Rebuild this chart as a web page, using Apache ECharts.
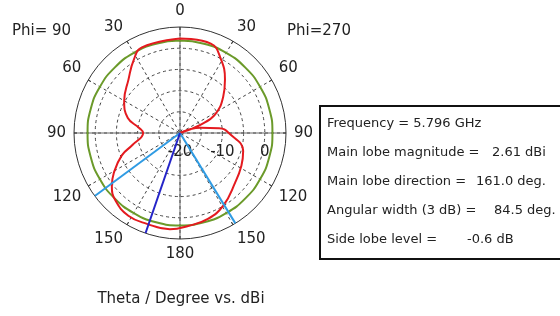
<!DOCTYPE html>
<html>
<head>
<meta charset="utf-8">
<script src="https://cdn.jsdelivr.net/npm/echarts@6/dist/echarts.min.js"></script>
<style>
  html, body { margin: 0; padding: 0; background: #fff; }
  #main { width: 560px; height: 316px; }
</style>
</head>
<body>
<div id="main"></div>
<script>
// theta in degrees, clockwise from the top (right half = Phi 270, left half = Phi 90)
var theta = [0, 19, 29, 40, 50, 62, 68, 72, 76, 83, 90, 106, 118, 132, 149, 162, 175,
             186, 200, 212, 224, 232, 239, 249, 256, 270, 277, 286, 300, 316, 328, 336, 360];
// gain in dBi
var gain = [2.3, 2.3, -0.1, -3.5, -6.7, -10.6, -14.7, -20, -15, -10.7, -8.5, -4.5, -3.6, -2.5, -0.1, 1.3, 2.0,
            2.8, 2.8, 3.0, 2.0, 0.4, -1.8, -5.3, -8.5, -11.3, -10.3, -7.2, -4.8, -2.5, 0.5, 2.1, 2.3];

// green reference ring
var ringLevel = 1.8;
var ringAngles = [0, 15, 30, 45, 60, 75, 90, 105, 120, 135, 150, 165, 180,
                  195, 210, 225, 240, 255, 270, 285, 300, 315, 330, 345, 360];

// main lobe direction and 3 dB edges (theta, degrees)
var mainLobeDir = 199;
var halfPowerDirs = [148.5, 233.5];

// radius axis (dB)
var rMin = -20, rMax = 5, rStep = 5;
var rLabels = [-20, -10, 0];

var infoLines = [
  ['Frequency = 5.796 GHz', ''],
  ['Main lobe magnitude =', '2.61 dBi'],
  ['Main lobe direction =', '161.0 deg.'],
  ['Angular width (3 dB) =', '84.5 deg.'],
  ['Side lobe level =', '-0.6 dB']
];
var valueX = [0, 492, 476, 494, 467];

// angle axis starts at the right (so the radius labels sit on the 90 spoke)
function toAxis(t) { return (t + 270) % 360; }

var font = 'DejaVu Sans';
var cx = 180, cy = 133, R = 106;

var series = [];
series.push({
  type: 'line', coordinateSystem: 'polar', polarIndex: 0,
  showSymbol: false, smooth: true,
  lineStyle: { color: '#6b9a2a', width: 2 },
  data: ringAngles.map(function (t) { return [ringLevel, toAxis(t)]; })
});
series.push({
  type: 'line', coordinateSystem: 'polar', polarIndex: 0,
  showSymbol: false, smooth: 0.45,
  lineStyle: { color: '#e41a1f', width: 2 },
  data: theta.map(function (t, i) { return [gain[i], toAxis(t)]; })
});
halfPowerDirs.forEach(function (t) {
  series.push({
    type: 'line', coordinateSystem: 'polar', polarIndex: 0,
    showSymbol: false,
    lineStyle: { color: '#2f9be3', width: 2 },
    data: [[rMin, toAxis(t)], [rMax, toAxis(t)]]
  });
});
series.push({
  type: 'line', coordinateSystem: 'polar', polarIndex: 0,
  showSymbol: false,
  lineStyle: { color: '#2424c8', width: 2 },
  data: [[rMin, toAxis(mainLobeDir)], [rMax, toAxis(mainLobeDir)]]
});

var graphic = [
  { type: 'text', left: 12, top: 24, style: { text: 'Phi= 90', font: '15px "' + font + '"', fill: '#222' } },
  { type: 'text', left: 287, top: 24, style: { text: 'Phi=270', font: '15px "' + font + '"', fill: '#222' } },
  { type: 'text', x: 181, y: 299, style: { text: 'Theta / Degree vs. dBi', font: '15px "' + font + '"', fill: '#222', align: 'center', verticalAlign: 'middle' } },
  { type: 'rect', shape: { x: 320, y: 106, width: 260, height: 153 }, style: { fill: '#fff', stroke: '#111', lineWidth: 2 } }
];
infoLines.forEach(function (ln, i) {
  var y = 124 + i * 29;
  graphic.push({ type: 'text', x: 327, y: y, style: { text: ln[0], font: '13px "' + font + '"', fill: '#222', verticalAlign: 'middle' } });
  if (ln[1]) {
    graphic.push({ type: 'text', x: valueX[i], y: y, style: { text: ln[1], font: '13px "' + font + '"', fill: '#222', verticalAlign: 'middle' } });
  }
});

var myChart = echarts.init(document.getElementById('main'));
var option = {
  animation: false,
  backgroundColor: '#fff',
  polar: [
    { center: [cx, cy], radius: R },
    { center: [cx, cy], radius: R }
  ],
  angleAxis: [{
    polarIndex: 0, type: 'value', min: 0, max: 360, interval: 30,
    startAngle: 0, clockwise: true,
    axisLine: { lineStyle: { color: '#333', width: 1 } },
    axisTick: { inside: true, length: 3, lineStyle: { color: '#222' } },
    axisLabel: {
      margin: 8, fontSize: 15, fontFamily: font, color: '#222',
      formatter: function (v) { var t = (v + 90) % 360; return t <= 180 ? t : 360 - t; }
    },
    splitLine: { lineStyle: { color: '#444', type: [3, 3], width: 1 } }
  }, {
    polarIndex: 1, type: 'value', min: 0, max: 360, interval: 90,
    startAngle: 0, clockwise: true,
    axisLine: { show: false }, axisTick: { show: false }, axisLabel: { show: false },
    splitLine: { lineStyle: { color: '#666', width: 1 } }
  }],
  radiusAxis: [{
    polarIndex: 0, type: 'value', min: rMin, max: rMax, interval: rStep,
    axisLine: { show: false }, axisTick: { show: false },
    axisLabel: {
      margin: -19, align: 'center', verticalAlign: 'middle',
      fontSize: 15, fontFamily: font, color: '#222',
      formatter: function (v) { return rLabels.indexOf(v) >= 0 ? String(v) : ''; }
    },
    splitLine: { lineStyle: { color: ['rgba(0,0,0,0)', '#444', '#444', '#444', '#444', 'rgba(0,0,0,0)'], type: [3, 3], width: 1 } }
  }, {
    polarIndex: 1, type: 'value', min: rMin, max: rMax,
    axisLine: { show: false }, axisTick: { show: false }, axisLabel: { show: false },
    splitLine: { show: false }
  }],
  series: series,
  graphic: graphic
};
myChart.setOption(option);
</script>
</body>
</html>
